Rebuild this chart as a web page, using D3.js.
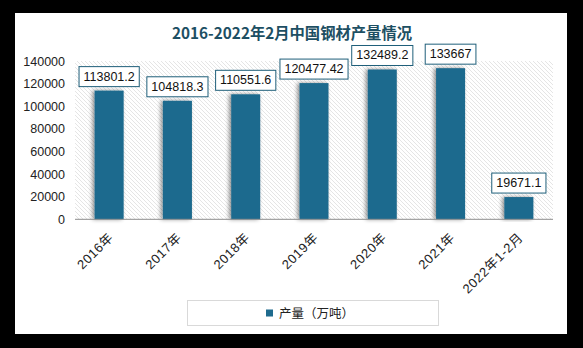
<!DOCTYPE html>
<html><head><meta charset="utf-8">
<script src="https://cdn.jsdelivr.net/npm/d3@7"></script>
<style>body{margin:0;background:#000;}svg{display:block;}</style>
</head><body>
<svg id="c" width="583" height="348"></svg>
<script>
const categories = ["2016年","2017年","2018年","2019年","2020年","2021年","2022年1-2月"];
const values = [113801.2, 104818.3, 110551.6, 120477.42, 132489.2, 133667, 19671.1];
const valueLabels = ["113801.2","104818.3","110551.6","120477.42","132489.2","133667","19671.1"];
const yTicks = [0,20000,40000,60000,80000,100000,120000,140000];
const title = "2016-2022年2月中国钢材产量情况";
const seriesName = "产量（万吨）";

const svg = d3.select("#c");
const barColor = "#1f6b8e";
const defs = svg.append("defs");
const pat = defs.append("pattern").attr("id","hatch").attr("patternUnits","userSpaceOnUse")
  .attr("width",4).attr("height",4);
pat.append("rect").attr("width",4).attr("height",4).attr("fill","#fff");
pat.append("path").attr("d","M-1,-1 L5,5 M-1,3 L1,5 M3,-1 L5,1").attr("stroke","#dedede").attr("stroke-width",0.8);
const f = defs.append("filter").attr("id","sh").attr("x","-40%").attr("y","-10%").attr("width","180%").attr("height","120%");
f.append("feGaussianBlur").attr("in","SourceAlpha").attr("stdDeviation",2.2).attr("result","b");
f.append("feOffset").attr("in","b").attr("dx",-2).attr("dy",0).attr("result","o");
f.append("feComponentTransfer").attr("in","o").attr("result","o2").append("feFuncA").attr("type","linear").attr("slope",0.45);
const mg = f.append("feMerge"); mg.append("feMergeNode").attr("in","o2"); mg.append("feMergeNode").attr("in","SourceGraphic");

// panel
svg.append("rect").attr("x",15).attr("y",13).attr("width",552).attr("height",321).attr("fill","#fff");

const pL=75, pR=553, pT=61, pB=219.3;
const x = d3.scaleBand().domain(categories).range([pL,pR]).paddingInner(0.575).paddingOuter(0.2875);
const y = d3.scaleLinear().domain([0,140000]).range([pB,pT]);

svg.append("rect").attr("x",pL).attr("y",pT).attr("width",pR-pL).attr("height",pB-pT).attr("fill","url(#hatch)");

// title
svg.append("text").attr("x",292).attr("y",39).attr("text-anchor","middle")
  .attr("font-family","'Noto Sans CJK SC', sans-serif").attr("font-weight","bold").attr("font-size",15.5)
  .attr("fill","#1d4f63").attr("textLength",240).attr("lengthAdjust","spacingAndGlyphs").text(title);

// y axis
const yAxis = svg.append("g").attr("transform",`translate(${pL},0)`)
  .call(d3.axisLeft(y).tickValues(yTicks).tickSize(0).tickPadding(10).tickFormat(d3.format("d")));
yAxis.select(".domain").remove();
yAxis.selectAll("text").attr("font-family","'Liberation Sans', Arial, sans-serif").attr("font-size",12.5).attr("fill","#222");

// bars
svg.append("g").selectAll("rect").data(values).join("rect")
  .attr("x",(d,i)=>x(categories[i])).attr("width",x.bandwidth())
  .attr("y",d=>y(d)).attr("height",d=>pB-y(d)).attr("fill",barColor).attr("filter","url(#sh)");

// x axis line
svg.append("line").attr("x1",pL).attr("x2",pR).attr("y1",pB).attr("y2",pB).attr("stroke","#8c8c8c").attr("stroke-width",1);

// x labels
const xAxis = svg.append("g").attr("transform",`translate(0,${pB})`)
  .call(d3.axisBottom(x).tickSize(0).tickPadding(0));
xAxis.select(".domain").remove();
xAxis.selectAll("text").attr("font-family","'Liberation Sans', 'Noto Sans CJK SC', sans-serif").attr("font-size",13)
  .attr("letter-spacing","0.6px")
  .attr("fill","#222").attr("text-anchor","end").attr("dy",0)
  .attr("transform","translate(5,19) rotate(-45)");

// data labels
const lg = svg.append("g").selectAll("g").data(values).join("g")
  .attr("transform",(d,i)=>`translate(${x(categories[i])+x.bandwidth()/2},${y(d)-4})`);
lg.each(function(d,i){
  const g = d3.select(this);
  const t = g.append("text").attr("text-anchor","middle").attr("y",-6)
    .attr("font-family","'Liberation Sans', Arial, sans-serif").attr("font-size",12.5).attr("fill","#111").text(valueLabels[i]);
  const w = t.node().getComputedTextLength()+9;
  g.insert("rect","text").attr("x",-w/2).attr("y",-20).attr("width",w).attr("height",20)
    .attr("fill","#fff").attr("stroke","#1f5f7a").attr("stroke-width",1);
});

// legend
svg.append("rect").attr("x",187.5).attr("y",300.5).attr("width",251).attr("height",25).attr("fill","#fff").attr("stroke","#d9d9d9");
svg.append("rect").attr("x",266).attr("y",309.5).attr("width",7).attr("height",7).attr("fill",barColor);
svg.append("text").attr("x",279).attr("y",318).attr("font-family","'Noto Sans CJK SC', sans-serif").attr("font-size",12.5)
  .attr("fill","#222").text(seriesName);
</script>
</body></html>
